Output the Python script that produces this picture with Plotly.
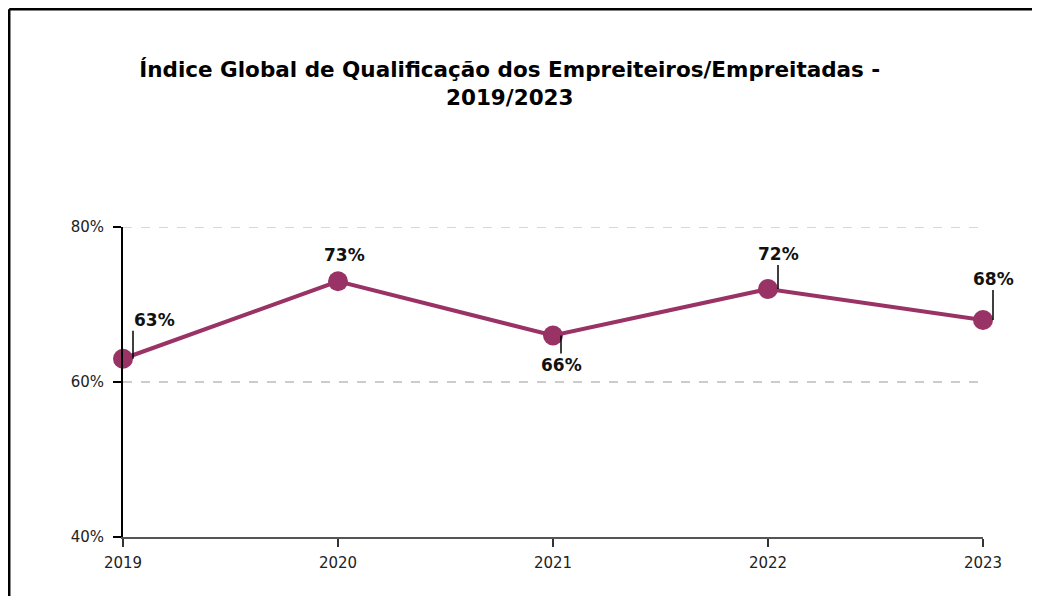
import plotly.graph_objects as go

years = ["2019", "2020", "2021", "2022", "2023"]
values = [63, 73, 66, 72, 68]
labels = ["63%", "73%", "66%", "72%", "68%"]
y_ticks = [40, 60, 80]
y_tick_text = ["40%", "60%", "80%"]
title_text = "Índice Global de Qualificação dos Empreiteiros/Empreitadas -<br>2019/2023"

color = "#993366"
grid_color = "#cccccc"

fig = go.Figure()
fig.add_trace(go.Scatter(
    x=years, y=values, mode="lines+markers",
    line=dict(color=color, width=4),
    marker=dict(color=color, size=20),
    hoverinfo="skip", cliponaxis=False,
))

# label placement: (showarrow, xshift, ay / yshift, xanchor, yanchor)
placements = [
    (True, 10, -28, "left", "bottom"),
    (False, 6, 26, "center", "middle"),
    (True, 8, 18, "center", "top"),
    (True, 10, -24, "center", "bottom"),
    (True, 10, -30, "center", "bottom"),
]
for i, (v, lab, (arr, xs, off, xa, ya)) in enumerate(zip(values, labels, placements)):
    kw = dict(ax=0, ay=off) if arr else dict(yshift=off)
    fig.add_annotation(
        x=i, y=v, xref="x", yref="y", text="<b>%s</b>" % lab, showarrow=arr,
        arrowhead=0, arrowwidth=1.5, arrowcolor="#000000",
        xshift=xs, xanchor=xa, yanchor=ya, borderpad=0,
        font=dict(family="DejaVu Sans", size=17, color="#111111"), **kw
    )

# top gridline (sits on the edge of the axis range, so plotly skips it)
fig.add_shape(type="line", xref="paper", yref="y", x0=0, x1=1,
              y0=y_ticks[-1], y1=y_ticks[-1],
              line=dict(color=grid_color, width=1.5, dash="dash"), layer="below")

# outer frame: left and top edges (the rest lies outside the picture)
fig.add_shape(type="line", xref="paper", yref="paper",
              x0=-0.1323, x1=-0.1323, y0=-0.4, y1=1.7024,
              line=dict(color="#000000", width=2.5), layer="below")
fig.add_shape(type="line", xref="paper", yref="paper",
              x0=-0.1323, x1=1.3, y0=1.7024, y1=1.7024,
              line=dict(color="#000000", width=2.5), layer="below")

fig.update_layout(
    width=1024, height=588,
    margin=dict(l=115, r=49, t=219, b=59),
    paper_bgcolor="white", plot_bgcolor="white",
    showlegend=False,
    title=dict(text="<b>%s</b>" % title_text, x=0.49, xanchor="center",
               y=0.882, yanchor="top",
               font=dict(family="DejaVu Sans", size=21.5, color="#000000")),
    xaxis=dict(
        type="category", range=[0, 4], showgrid=False,
        showline=True, linecolor="#555555", linewidth=2,
        ticks="outside", ticklen=8, tickwidth=2, tickcolor="#333333",
        tickfont=dict(family="DejaVu Sans", size=15, color="#222222"),
        zeroline=False, ticklabelstandoff=3,
    ),
    yaxis=dict(
        range=[40, 80], tickvals=y_ticks, ticktext=y_tick_text,
        showline=True, linecolor="#000000", linewidth=2,
        ticks="outside", ticklen=8, tickwidth=2, tickcolor="#000000",
        showgrid=True, gridcolor=grid_color, griddash="dash", gridwidth=1.5,
        tickfont=dict(family="DejaVu Sans", size=15, color="#222222"),
        zeroline=False, ticklabelstandoff=6,
    ),
)

fig.write_html("out.html")
